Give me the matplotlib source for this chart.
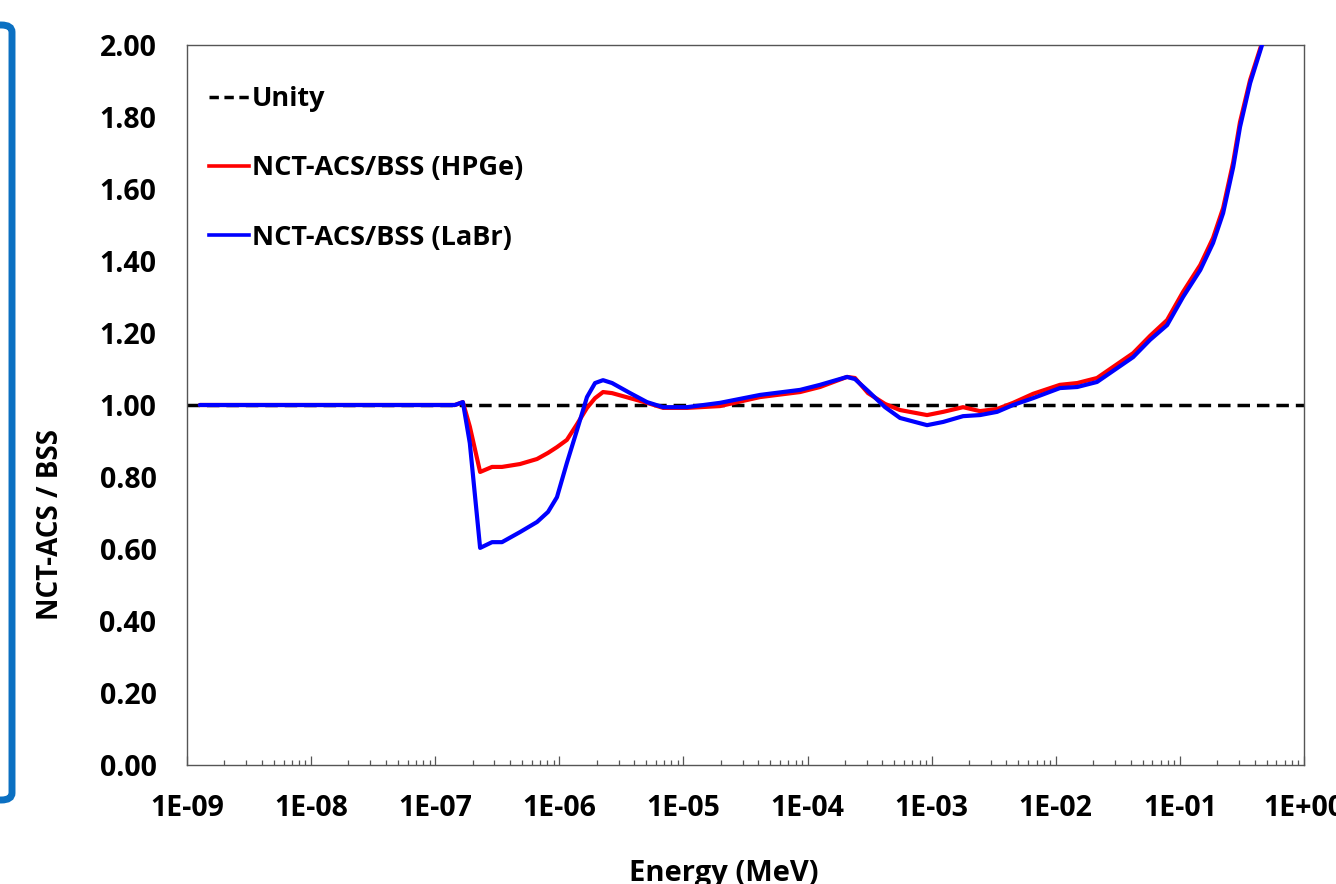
import numpy as np
import matplotlib
matplotlib.use('Agg')
import matplotlib.pyplot as plt
from matplotlib.lines import Line2D
from matplotlib.patches import FancyBboxPatch
from matplotlib.ticker import FixedLocator, FuncFormatter, LogLocator, NullFormatter


# ─── Data ─────────────────────────────────────────────────────────────────────

energy = [
    1.27e-9, 1.44e-7, 1.67e-7, 1.90e-7, 2.30e-7, 2.87e-7, 3.45e-7, 4.82e-7,
    6.61e-7, 8.11e-7, 9.57e-7, 1.15e-6, 1.39e-6, 1.67e-6, 1.94e-6, 2.25e-6,
    2.66e-6, 3.72e-6, 5.09e-6, 6.86e-6, 1.07e-5, 1.97e-5, 4.14e-5, 8.71e-5,
    1.26e-4, 2.08e-4, 2.41e-4, 3.07e-4, 4.21e-4, 5.56e-4, 9.18e-4, 1.24e-3,
    1.79e-3, 2.45e-3, 3.37e-3, 4.53e-3, 6.56e-3, 1.08e-2, 1.49e-2, 2.15e-2,
    2.74e-2, 4.20e-2, 5.75e-2, 7.89e-2, 0.106, 0.146, 0.185, 0.223,
    0.269, 0.305, 0.368, 0.459, 0.520,
]

ratio_hpge = [
    1.000, 1.000, 1.008, 0.940, 0.814, 0.828, 0.828, 0.836,
    0.850, 0.867, 0.883, 0.903, 0.947, 0.992, 1.019, 1.036,
    1.033, 1.019, 1.006, 0.992, 0.992, 0.997, 1.022, 1.036,
    1.050, 1.078, 1.075, 1.033, 1.003, 0.986, 0.972, 0.981,
    0.994, 0.983, 0.989, 1.006, 1.031, 1.056, 1.061, 1.075,
    1.100, 1.144, 1.192, 1.236, 1.314, 1.389, 1.464, 1.547,
    1.675, 1.786, 1.903, 2.006, 2.090,
]

ratio_labr = [
    1.000, 1.000, 1.008, 0.894, 0.603, 0.619, 0.619, 0.647,
    0.675, 0.703, 0.744, 0.839, 0.931, 1.022, 1.061, 1.069,
    1.061, 1.033, 1.008, 0.994, 0.994, 1.006, 1.028, 1.042,
    1.056, 1.078, 1.072, 1.039, 0.994, 0.964, 0.944, 0.953,
    0.969, 0.972, 0.981, 1.000, 1.019, 1.047, 1.050, 1.064,
    1.089, 1.133, 1.181, 1.222, 1.300, 1.375, 1.450, 1.533,
    1.661, 1.772, 1.894, 2.000, 2.080,
]

unity = 1.0
legend_labels = ['Unity', 'NCT-ACS/BSS (HPGe)', 'NCT-ACS/BSS (LaBr)']
y_ticks = [0.0, 0.2, 0.4, 0.6, 0.8, 1.0, 1.2, 1.4, 1.6, 1.8, 2.0]


# ─── Style ────────────────────────────────────────────────────────────────────

FONT = ['Open Sans', 'DejaVu Sans']
plt.rcParams['font.family'] = FONT
plt.rcParams['font.weight'] = 'bold'

RED = '#FF0000'
BLUE = '#0000FF'
SPINE = '#555555'
FRAME_BLUE = '#0B70C2'

W, H = 1336, 884
LINE_KW = dict(lw=3.0, solid_joinstyle='round', solid_capstyle='round')


# ─── Plot ─────────────────────────────────────────────────────────────────────

fig = plt.figure(figsize=(W / 100, H / 100), dpi=100)
ax = fig.add_axes([187 / W, 1 - 765 / H, (1304 - 187) / W, (765 - 45) / H])

ax.axhline(unity, color='black', lw=2.5, linestyle=(0, (3.6, 2.0)), zorder=1)
ax.plot(energy, ratio_hpge, color=RED, zorder=2, **LINE_KW)
ax.plot(energy, ratio_labr, color=BLUE, zorder=3, **LINE_KW)

ax.set_xscale('log')
ax.set_xlim(1e-9, 1.0)
ax.set_ylim(0, 2.0)

ax.xaxis.set_major_locator(FixedLocator([10.0 ** k for k in range(-9, 1)]))
ax.xaxis.set_minor_locator(LogLocator(base=10, subs=np.arange(2, 10), numticks=50))
ax.xaxis.set_minor_formatter(NullFormatter())
ax.xaxis.set_major_formatter(FuncFormatter(lambda v, _: f"1E{int(round(np.log10(v))):+03d}"))

ax.set_yticks(y_ticks)
ax.yaxis.set_major_formatter(FuncFormatter(lambda v, _: f"{v:.2f}"))

ax.tick_params(axis='x', which='major', direction='in', length=6.5, width=0.9,
               color=SPINE, pad=21, labelsize=20.5)
ax.tick_params(axis='x', which='minor', direction='in', length=3.6, width=0.9,
               color=SPINE)
ax.tick_params(axis='y', which='both', length=0, pad=22, labelsize=20.5)

for s in ax.spines.values():
    s.set_color(SPINE)
    s.set_linewidth(1.0)

fig.text(51 / W, 1 - 525 / H, 'NCT-ACS / BSS', rotation=90, ha='center', va='center',
         fontsize=20, fontweight='bold')
fig.text(724 / W, 1 - 873 / H, 'Energy (MeV)', ha='center', va='center',
         fontsize=21, fontweight='bold')

handles = [
    Line2D([], [], color='black', lw=2.5, linestyle=(0, (2.7, 1.6))),
    Line2D([], [], color=RED, lw=2.6),
    Line2D([], [], color=BLUE, lw=2.6),
]
ax.legend(handles, legend_labels, loc='upper left', bbox_to_anchor=(0.0, 0.973),
          frameon=False, fontsize=19.5, handlelength=1.48, handletextpad=0.11,
          labelspacing=1.6, borderaxespad=0.4)

# partial rounded frame on the left edge
frame = FancyBboxPatch((-100 / W, 1 - 800 / H), 112 / W, 775 / H,
                       boxstyle='round,pad=0,rounding_size=0.008',
                       transform=fig.transFigure, fill=False,
                       edgecolor=FRAME_BLUE, lw=5, clip_on=False)
fig.patches.append(frame)

fig.savefig('out.png', dpi=100)
